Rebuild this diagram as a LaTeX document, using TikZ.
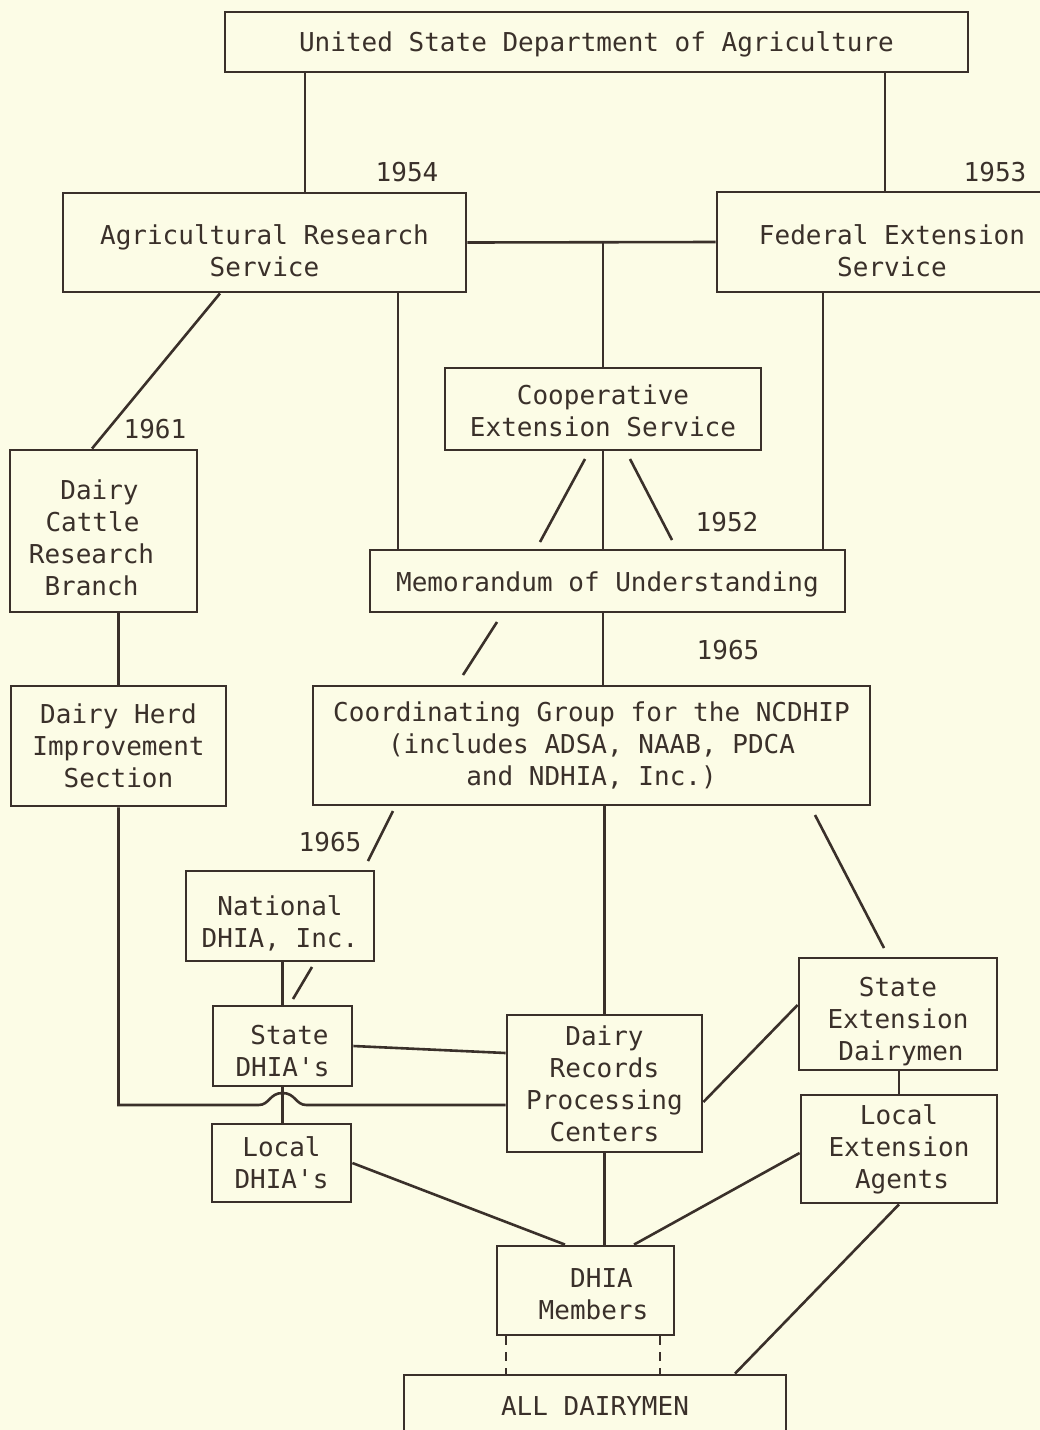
\documentclass[tikz,border=0pt]{standalone}
\usepackage{fontspec}
\setmainfont{DejaVu Sans Mono}
\usepackage{tikz}
\usetikzlibrary{
    positioning,      % For placing nodes relative to each other
    calc              % For shifted anchor coordinates
}
\definecolor{paper}{RGB}{252,252,230}
\definecolor{ink}{RGB}{58,48,42}
% invisible strut that pushes a box's text a little lower
\newcommand{\txtdrop}[1]{\rule{0pt}{#1}}
% invisible horizontal padding
\newcommand{\txtpad}[1]{\rule{#1}{0pt}}

\begin{document}
\begin{tikzpicture}[
    x=1pt, y=-1pt,
    % Style for the organisation boxes
    org_box/.style={
        draw=ink,
        line width=2.8pt,
        text=ink,
        font=\fontsize{26}{32}\selectfont,
        align=center,
        inner sep=0pt
    },
    % Style for the year labels
    year_label/.style={
        text=ink,
        font=\fontsize{26}{32}\selectfont,
        inner sep=0pt
    },
    % Style for the connecting lines
    link/.style={
        draw=ink,
        line width=2.6pt
    },
    % Style for the dashed links at the bottom
    dash_link/.style={
        link,
        dash pattern=on 9pt off 7pt
    }
]
    % 0. Paper and page size
    \useasboundingbox (0,0) rectangle (1040,1430);
    \fill[paper] (0,0) rectangle (1040,1430);

    % 1. The boxes, top to bottom
    \node[org_box, minimum width=743pt, minimum height=60pt] (usda) at (596.5,42)
        {\txtdrop{24pt}United State Department of Agriculture};
    \node[org_box, minimum width=403pt, minimum height=99pt] (ars) at (264.5,242.5)
        {\txtdrop{36pt}Agricultural Research\\Service};
    \node[org_box, minimum width=350pt, minimum height=100pt] (fes) at (892,242)
        {\txtdrop{38pt}Federal Extension\\Service};
    \node[org_box, minimum width=316pt, minimum height=82pt] (coop) at (603,409)
        {\txtdrop{24pt}Cooperative\\Extension Service};
    \node[org_box, minimum width=187pt, minimum height=162pt] (dcrb) at (103.5,531)
        {\txtdrop{33pt}Dairy\txtpad{8pt}\\Cattle\txtpad{22pt}\\Research\txtpad{24pt}\\Branch\txtpad{24pt}};
    \node[org_box, minimum width=475pt, minimum height=62pt] (memo) at (607.5,581)
        {\txtdrop{27pt}Memorandum of Understanding};
    \node[org_box, minimum width=215pt, minimum height=120pt] (dhis) at (118.5,746)
        {Dairy Herd\\Improvement\\Section};
    \node[org_box, minimum width=557pt, minimum height=119pt] (coord) at (591.5,745.5)
        {Coordinating Group for the NCDHIP\\(includes ADSA, NAAB, PDCA\\and NDHIA, Inc.)};
    \node[org_box, minimum width=188pt, minimum height=90pt] (ndhia) at (280,916)
        {\txtdrop{34pt}National\\DHIA, Inc.};
    \node[org_box, minimum width=139pt, minimum height=80pt] (sdhia) at (282.5,1046)
        {\txtdrop{30pt}\txtpad{14pt}State\\DHIA\textquotesingle s};
    \node[org_box, minimum width=139pt, minimum height=78pt] (ldhia) at (281.5,1163)
        {Local\\DHIA\textquotesingle s};
    \node[org_box, minimum width=195pt, minimum height=137pt] (drpc) at (604.5,1083.5)
        {Dairy\\Records\\Processing\\Centers};
    \node[org_box, minimum width=198pt, minimum height=112pt] (sed) at (898,1014)
        {\txtdrop{34pt}State\\Extension\\\txtpad{6pt}Dairymen};
    \node[org_box, minimum width=196pt, minimum height=108pt] (lea) at (899,1149)
        {Local\\Extension\\\txtpad{6pt}Agents};
    \node[org_box, minimum width=177pt, minimum height=89pt] (dhiam) at (585.5,1290.5)
        {\txtdrop{26pt}\txtpad{32pt}DHIA\\\txtpad{16pt}Members};
    \node[org_box, minimum width=382pt, minimum height=62pt] (alld) at (595,1406)
        {ALL DAIRYMEN};

    % 2. Year labels
    \node[year_label] (y_ars) at (407,172) {1954};
    \node[year_label] (y_fes) at (995,172) {1953};
    \node[year_label] (y_dcrb) at (155,429) {1961};
    \node[year_label] (y_memo) at (727,522) {1952};
    \node[year_label] (y_coord) at (728,650) {1965};
    \node[year_label] (y_ndhia) at (330,842) {1965};

    % 3. Lines from the department down to the two services
    \coordinate (ars_up) at ([xshift=40.5pt]ars.north);
    \draw[link] (ars_up) -- (ars_up |- usda.south);
    \coordinate (fes_up) at ([xshift=-7pt]fes.north);
    \draw[link] (fes_up) -- (fes_up |- usda.south);
    \draw[link] (ars.east) -- (fes.west);
    \draw[link] (coop.north |- ars.east) -- (coop.north);

    % 4. Lines into the memorandum
    \coordinate (ars_down) at ([xshift=133.5pt]ars.south);
    \draw[link] (ars_down) -- (ars_down |- memo.north);
    \coordinate (fes_down) at ([xshift=-69pt]fes.south);
    \draw[link] (fes_down) -- (fes_down |- memo.north);
    \draw[link] (coop.south) -- (coop.south |- memo.north);
    \coordinate (slash_a1) at (585,459);
    \coordinate (slash_a2) at (540,542);
    \coordinate (slash_b1) at (630,459);
    \coordinate (slash_b2) at (672,540);
    \draw[link] (slash_a1) -- (slash_a2);
    \draw[link] (slash_b1) -- (slash_b2);

    % 5. Memorandum to the coordinating group
    \draw[link] (memo.south -| coop.south) -- (coord.north -| coop.south);
    \coordinate (slash_c1) at (497,622);
    \coordinate (slash_c2) at (463,675);
    \draw[link] (slash_c1) -- (slash_c2);

    % 6. Research side on the left
    \draw[link] ([xshift=-44.5pt]ars.south) -- ([xshift=-11.5pt]dcrb.north);
    \draw[link] (dcrb.south -| dhis.north) -- (dhis.north);

    % 7. Coordinating group downwards
    \coordinate (slash_d1) at (393,811);
    \coordinate (slash_d2) at (368,861);
    \draw[link] (slash_d1) -- (slash_d2);
    \draw[link] (coord.south -| drpc.north) -- (drpc.north);
    \coordinate (slash_e1) at (815,815);
    \coordinate (slash_e2) at (884,948);
    \draw[link] (slash_e1) -- (slash_e2);

    % 8. DHIA chain
    \draw[link] (ndhia.south -| sdhia.north) -- (sdhia.north);
    \coordinate (slash_f1) at (312,967);
    \coordinate (slash_f2) at (293,999);
    \draw[link] (slash_f1) -- (slash_f2);
    \draw[link] (sdhia.south) -- (ldhia.north -| sdhia.south);
    \draw[link] (sdhia.east) -- ([yshift=30.5pt]drpc.west);

    % 9. Herd improvement line hopping over the State-Local link
    \coordinate (bend) at (118.5,1105);
    \coordinate (hop) at (bend -| sdhia.south);
    \draw[link] (dhis.south) -- (bend) -- ([xshift=-24pt]hop)
        .. controls ([xshift=-13pt]hop) and ([xshift=-13pt,yshift=12pt]hop) .. ([yshift=12pt]hop)
        .. controls ([xshift=13pt,yshift=12pt]hop) and ([xshift=13pt]hop) .. ([xshift=24pt]hop)
        -- (bend -| drpc.west);

    % 10. Extension side on the right
    \draw[link] ([yshift=-18.5pt]drpc.east) -- ([yshift=9pt]sed.west);
    \draw[link] (sed.south -| lea.north) -- (lea.north);

    % 11. Down to the members and all dairymen
    \draw[link] (ldhia.east) -- ([xshift=-20.5pt]dhiam.north);
    \draw[link] (drpc.south) -- (drpc.south |- dhiam.north);
    \draw[link] ([yshift=-4pt]lea.west) -- ([xshift=48.5pt]dhiam.north);
    \draw[dash_link] ([xshift=-79.5pt]dhiam.south) -- ([xshift=-79.5pt]dhiam.south |- alld.north);
    \draw[dash_link] ([xshift=74.5pt]dhiam.south) -- ([xshift=74.5pt]dhiam.south |- alld.north);
    \draw[link] (lea.south) -- ([xshift=140pt]alld.north);

\end{tikzpicture}
\end{document}
